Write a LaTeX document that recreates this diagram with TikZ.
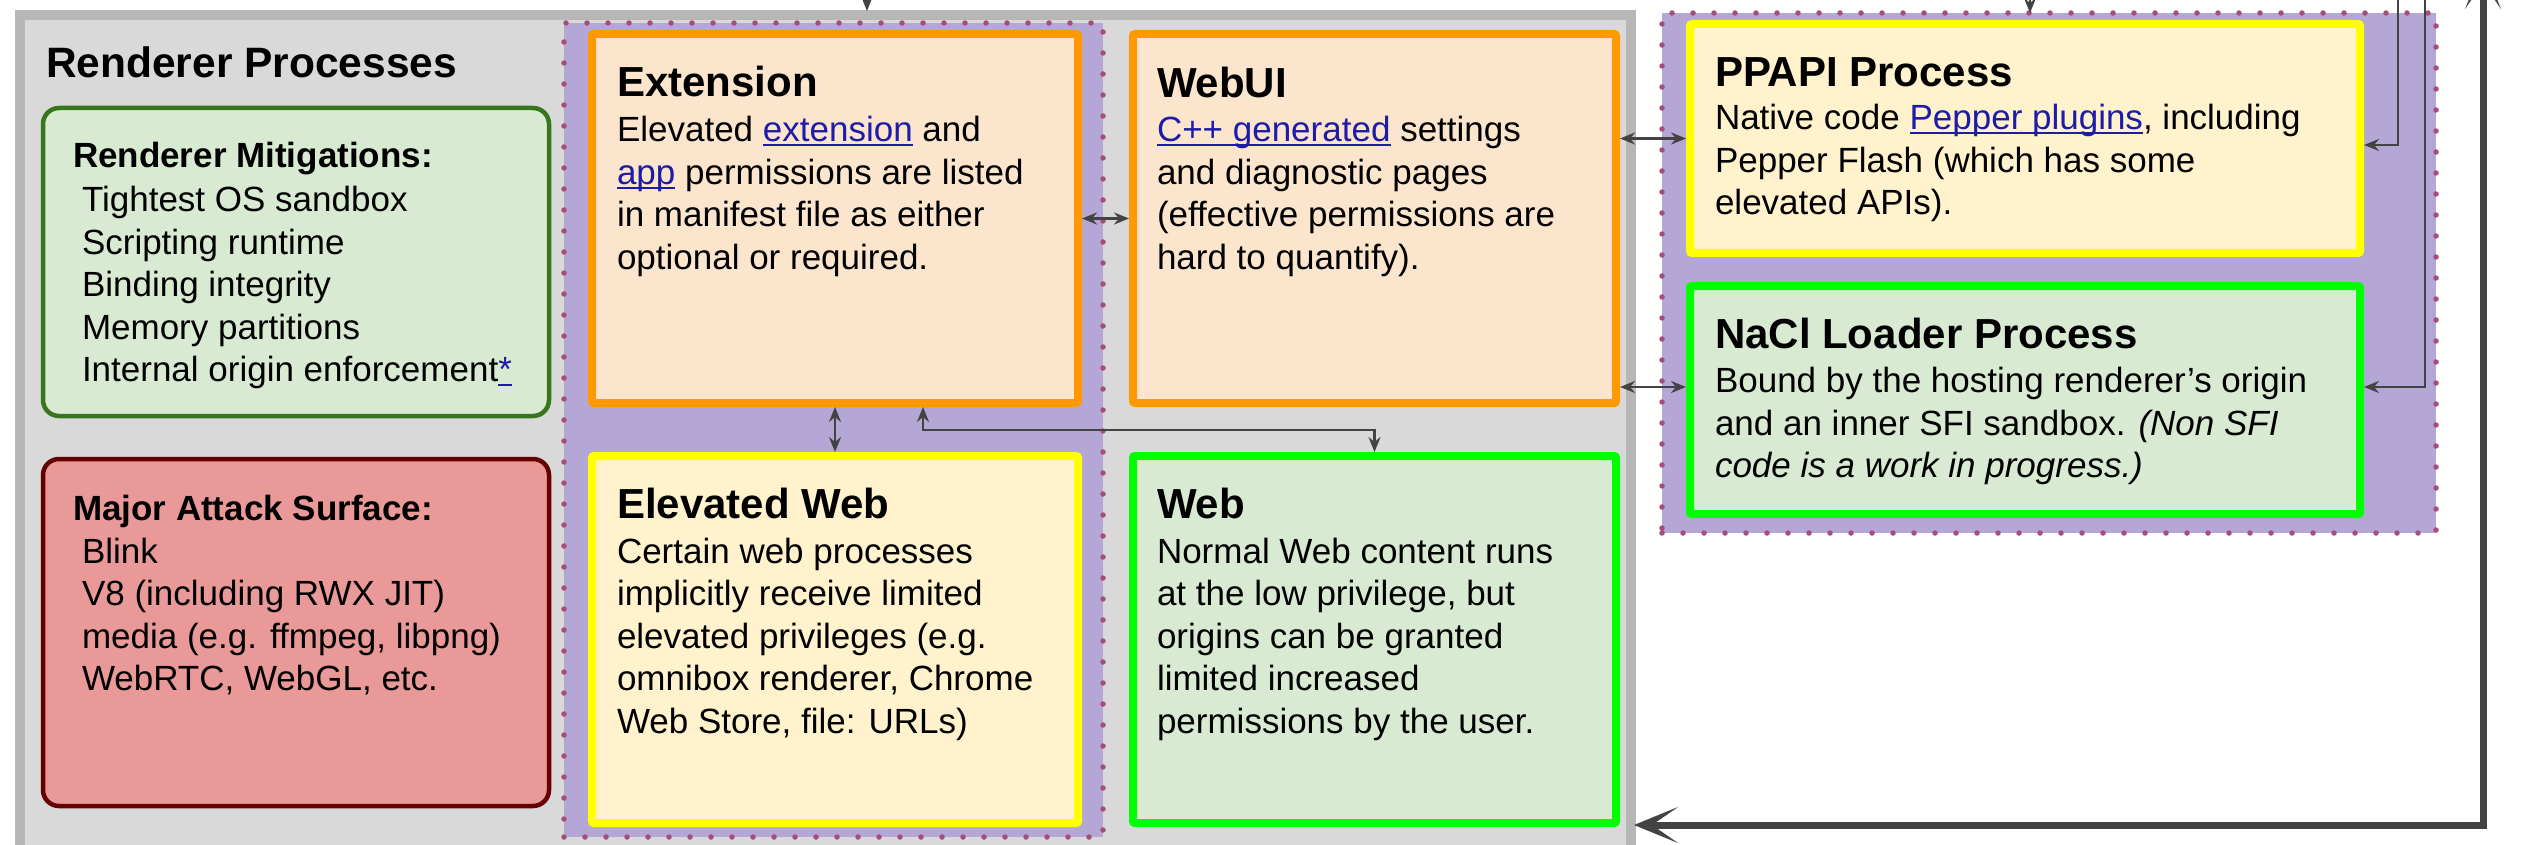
\documentclass[tikz,border=0pt]{standalone}
\usepackage{fontspec}
\setmainfont{Liberation Sans}
\usetikzlibrary{arrows.meta,calc}
\definecolor{grayfill}{HTML}{D9D9D9}
\definecolor{grayedge}{HTML}{B7B7B7}
\definecolor{purfill}{HTML}{B4A7D6}
\definecolor{purdot}{HTML}{A64D79}
\definecolor{orangeedge}{HTML}{FF9900}
\definecolor{orangefill}{HTML}{FCE5CD}
\definecolor{yellowedge}{HTML}{FFFF00}
\definecolor{yellowfill}{HTML}{FFF2CC}
\definecolor{greenedge}{HTML}{00FF00}
\definecolor{greenfill}{HTML}{D9EAD3}
\definecolor{darkgreen}{HTML}{38761D}
\definecolor{redfill}{HTML}{EA9999}
\definecolor{darkred}{HTML}{660000}
\definecolor{linkblue}{HTML}{1C1CA8}
\definecolor{conncol}{HTML}{434343}
\newcommand\lnk[1]{{\color{linkblue}\setbox0\hbox{#1}\rlap{\rule[-4.5pt]{\wd0}{2.4pt}}\box0}}
\newcommand\bodyfont{\fontsize{35}{42.5}\selectfont}
\newcommand\boxtitlefont{\fontsize{42}{48}\selectfont\bfseries}
\newcommand\lines[1]{\vtop{\hsize=700pt\bodyfont\parindent=0pt\parskip=0pt\noindent #1\par}}
\tikzset{
  every node/.style={inner sep=0pt, outer sep=0pt},
  areabox/.style={anchor=north west},
  cbox/.style={anchor=north west, line width=8pt, rounded corners=2pt},
  orangebox/.style={cbox, draw=orangeedge, fill=orangefill},
  yellowbox/.style={cbox, draw=yellowedge, fill=yellowfill},
  greenbox/.style={cbox, draw=greenedge, fill=greenfill},
  purplearea/.style={anchor=north west, fill=purfill, draw=purdot, line width=5.5pt,
    dash pattern=on 0pt off 21pt, line cap=round},
  roundbox/.style={anchor=north west, line width=4.5pt, rounded corners=16pt},
  titletext/.style={anchor=base west, font=\boxtitlefont},
  bodytext/.style={anchor=base west},
  conn/.style={draw=conncol, line width=2.6pt, >={Stealth[length=15pt,width=12pt,inset=5pt]}},
  bigconn/.style={draw=conncol, line width=7pt, >={Stealth[length=44pt,width=36pt,inset=26pt]}}
}
\begin{document}
\begin{tikzpicture}[x=1pt, y=-1pt]
\useasboundingbox (0,0) rectangle (2533,845);
\clip (0,0) rectangle (2533,845);
\fill[white] (0,0) rectangle (2533,845);

% areas
\node[areabox, draw=grayedge, fill=grayfill, line width=10pt, minimum width=1611pt, minimum height=900pt] (rend) at (20,15) {};
\node[purplearea, minimum width=539pt, minimum height=814pt] (pur1) at (564,23) {};
\node[purplearea, minimum width=774pt, minimum height=520pt] (pur2) at (1662,13) {};

% left boxes
\node[roundbox, draw=darkgreen, fill=greenfill, minimum width=506pt, minimum height=308pt] (mitig) at (43,108) {};
\node[roundbox, draw=darkred, fill=redfill, minimum width=506pt, minimum height=347pt] (attack) at (43,459) {};

% process boxes
\node[orangebox, minimum width=486pt, minimum height=369pt] (ext) at (592,34) {};
\node[yellowbox, minimum width=486pt, minimum height=367pt] (elev) at (592,456) {};
\node[orangebox, minimum width=483pt, minimum height=369pt] (webui) at (1133,34) {};
\node[greenbox, minimum width=483pt, minimum height=367pt] (web) at (1133,456) {};
\node[yellowbox, minimum width=670pt, minimum height=229pt] (ppapi) at (1690,24) {};
\node[greenbox, minimum width=670pt, minimum height=228pt] (nacl) at (1690,286) {};

% texts
\node[anchor=base west, font=\fontsize{42.5}{48}\selectfont\bfseries] (rendT) at (46,78) {Renderer Processes};
\node[anchor=base west, font=\bodyfont\bfseries] (mitigT) at (73,168) {Renderer Mitigations:};
\node[bodytext] (mitigB) at (82,212) {\lines{Tightest OS sandbox\\Scripting runtime\\Binding integrity\\Memory partitions\\Internal origin enforcement\lnk{*}}};
\node[anchor=base west, font=\bodyfont\bfseries] (attackT) at (73,520) {Major Attack Surface:};
\node[bodytext] (attackB) at (82,563) {\lines{Blink\\V8 (including RWX JIT)\\media (e.g. ffmpeg, libpng)\\WebRTC, WebGL, etc.}};

\node[titletext] (extT) at (617,97) {Extension};
\node[bodytext] (extB) at (617,142) {\lines{Elevated \lnk{extension} and\\\lnk{app} permissions are listed\\in manifest file as either\\optional or required.}};
\node[titletext] (webuiT) at (1157,98) {WebUI};
\node[bodytext] (webuiB) at (1157,142) {\lines{\lnk{C++ generated} settings\\and diagnostic pages\\(effective permissions are\\hard to quantify).}};
\node[titletext] (elevT) at (617,518) {Elevated Web};
\node[bodytext] (elevB) at (617,563) {\lines{Certain web processes\\implicitly receive limited\\elevated privileges (e.g.\\omnibox renderer, Chrome\\Web Store, file: URLs)}};
\node[titletext] (webT) at (1157,518) {Web};
\node[bodytext] (webB) at (1157,563) {\lines{Normal Web content runs\\at the low privilege, but\\origins can be granted\\limited increased\\permissions by the user.}};
\node[titletext] (ppapiT) at (1715,87) {PPAPI Process};
\node[bodytext] (ppapiB) at (1715,130) {\lines{Native code \lnk{Pepper plugins}, including\\Pepper Flash (which has some\\elevated APIs).}};
\node[titletext] (naclT) at (1715,348) {NaCl Loader Process};
\node[bodytext] (naclB) at (1715,392.5) {\lines{Bound by the hosting renderer’s origin\\and an inner SFI sandbox. \textit{(Non SFI}\\\textit{code is a work in progress.)}}};

% connectors
\draw[conn, <->, shorten <=4pt, shorten >=4pt] (ext.east) -- (webui.west);
\draw[conn, <->, shorten <=4pt, shorten >=4pt] (ext.south) -- (elev.north);
\draw[conn, <->, shorten <=4pt, shorten >=4pt] ([xshift=88pt]ext.south) -- ++(0,27) -| (web.north);
\draw[conn, <->, shorten <=4pt, shorten >=4pt] (webui.east |- ppapi.west) -- (ppapi.west);
\coordinate (naclOut) at ([yshift=13pt]nacl.west);
\draw[conn, <->, shorten <=4pt, shorten >=4pt] (webui.east |- naclOut) -- (naclOut);

\coordinate (topRend) at (867,-10);
\draw[conn, ->, shorten >=4pt] (topRend) -- (topRend |- rend.north);
\coordinate (topPur) at (2030,-10);
\draw[conn, ->] (topPur) -- (topPur |- pur2.north);
\coordinate (topA) at (2398,-10);
\coordinate (ppapiIn) at ([yshift=-6.5pt]ppapi.east);
\draw[conn, ->, shorten >=4pt] (topA) |- (ppapiIn);
\coordinate (topB) at (2425,-10);
\coordinate (naclIn) at ([yshift=13pt]nacl.east);
\draw[conn, ->, shorten >=4pt] (topB) |- (naclIn);

\coordinate (bigTop) at (2483,-35);
\coordinate (bigTurn) at (2483,825);
\draw[bigconn, <->, shorten >=3pt] (bigTop) -- (bigTurn) -- (rend.east |- bigTurn);
\end{tikzpicture}
\end{document}
